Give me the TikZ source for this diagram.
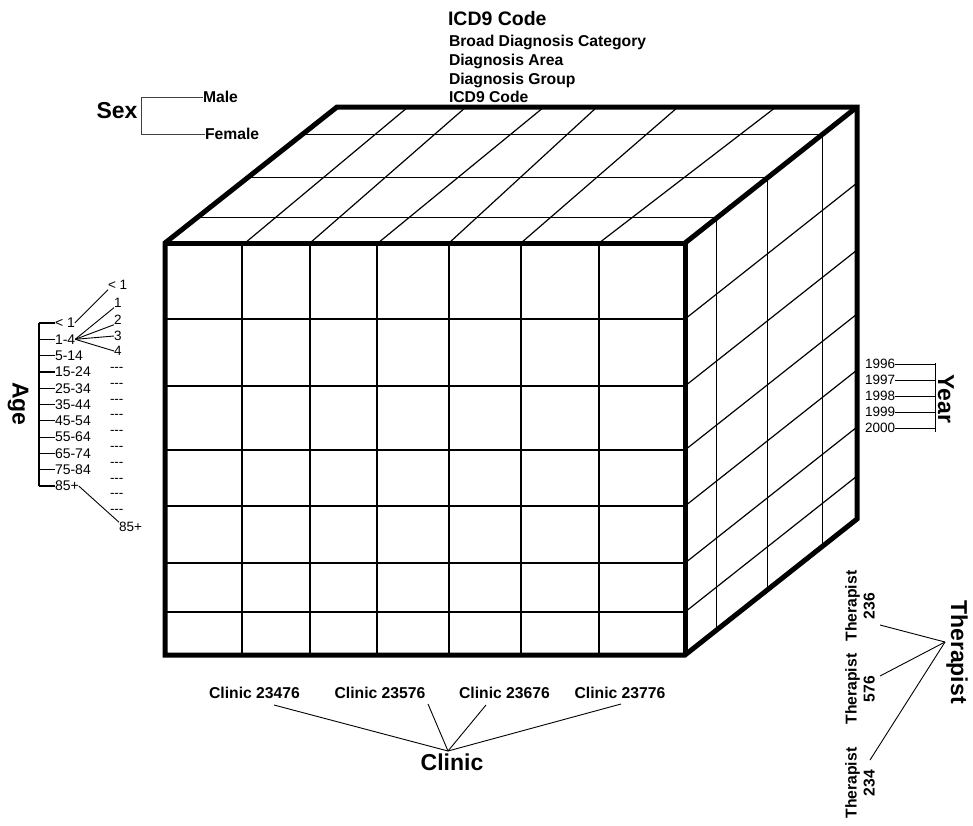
\documentclass[tikz,border=0pt]{standalone}
\usepackage{fontspec}
\setmainfont{Liberation Sans}
\usetikzlibrary{calc}
\newcommand\AxisFont{\fontsize{23}{27}\selectfont\bfseries}
\newcommand\LabFont{\fontsize{15.7}{18}\selectfont\bfseries}
\newcommand\TitleFont{\fontsize{19.5}{22}\selectfont\bfseries}
\newcommand\TickFont{\fontsize{13.5}{15}\selectfont}
\newcommand\AgeFont{\fontsize{14}{15}\selectfont}
\begin{document}
\begin{tikzpicture}[x=1pt,y=-1pt,
  every node/.style={inner sep=0pt,outer sep=0pt},
  cubeedge/.style={line width=5pt,line join=miter},
  gridline/.style={line width=1.2pt},
  thinline/.style={line width=0.9pt},
  agline/.style={line width=1.2pt},
  axislab/.style={font=\AxisFont},
  midlab/.style={font=\LabFont},
  titlelab/.style={font=\TitleFont},
  ticklab/.style={font=\TickFont},
  agelab/.style={font=\AgeFont}]
\useasboundingbox (0,0) rectangle (973,825);
\fill[white] (0,0) rectangle (973,825);

% cube corners
\coordinate (A) at (165,243);
\coordinate (B) at (685,243);
\coordinate (C) at (685,655);
\coordinate (D) at (165,655);
\coordinate (E) at (337,107);
\coordinate (F) at (857,107);
\coordinate (G) at (857,519);

% front grid
\foreach \x in {242,310,377,449,521,599} \draw[gridline] (\x,243) -- (\x,655);
\foreach \y in {319,386,450,506,563,612} {
  \draw[gridline] (165,\y) -- (685,\y);
  \draw[gridline] (685,\y) -- ++(172,-136);
}
% top and right face grid
\foreach \t in {0.185,0.48,0.80} {
  \draw[gridline] ($(A)!\t!(E)$) -- ($(B)!\t!(F)$);
  \draw[gridline] ($(B)!\t!(F)$) -- ($(C)!\t!(G)$);
}
\foreach \a/\b in {245/408,310/466,378/544,449/597,521/678,599/776}
  \draw[gridline] (\a,243) -- (\b,107);

% cube outline
\draw[cubeedge] (A) -- (E) -- (F) -- (G) -- (C) -- (D) -- cycle;
\draw[cubeedge] (A) -- (B) -- (C);
\draw[cubeedge] (B) -- (F);

% top labels
\node[titlelab,anchor=base west] (icd) at (448,25) {ICD9 Code};
\node[midlab,anchor=base west] (lv1) at (449,46.7) {Broad Diagnosis Category};
\node[midlab,anchor=base west] (lv2) at (449,65) {Diagnosis Area};
\node[midlab,anchor=base west] (lv3) at (449,84) {Diagnosis Group};
\node[midlab,anchor=base west] (lv4) at (449,102) {ICD9 Code};

% sex
\node[axislab] (sex) at (117,111) {Sex};
\node[midlab,anchor=west] (male) at (203,97) {Male};
\node[midlab,anchor=west] (female) at (205,134) {Female};
\coordinate (sx) at (141,0);
\draw[thinline,black!75] (male.west) -- (male.west -| sx) -- (female.west -| sx) -- (female.west);

% age
\node[axislab,rotate=-90] (age) at (18,404) {Age};
\foreach \i/\t in {0/{< 1},1/{1-4},2/{5-14},3/{15-24},4/{25-34},5/{35-44},6/{45-54},7/{55-64},8/{65-74},9/{75-84},10/{85+}} {
  \node[agelab,anchor=west] (ag\i) at (55,{323+16.3*\i}) {\t};
  \draw[agline] (ag\i.west) -- ++(-16,0);
}
\draw[agline] ($(ag0.west)+(-16,0)$) -- ($(ag10.west)+(-16,0)$);
\node[ticklab,anchor=west] (r0) at (108,285) {< 1};
\node[ticklab,anchor=west] (r1) at (114,303) {1};
\node[ticklab,anchor=west] (r2) at (114,320) {2};
\node[ticklab,anchor=west] (r3) at (114,336) {3};
\node[ticklab,anchor=west] (r4) at (114,351) {4};
\foreach \i in {0,...,9}
  \node[ticklab,anchor=west] (dd\i) at (110,{369.3+15.82*\i}) {-{}-{}-};
\node[ticklab,anchor=west] (r85) at (119,527) {85+};
\draw[thinline] (ag0.east) -- (r0.south west);
\draw[thinline] (ag1.east) -- (r1.south west);
\draw[thinline] (ag1.east) -- (r2.south west);
\draw[thinline] (ag1.east) -- (r3.west);
\draw[thinline] (ag1.east) -- (r4.west);
\draw[thinline] (ag10.east) -- (r85.north west);

% year
\foreach \i/\t in {0/1996,1/1997,2/1998,3/1999,4/2000} {
  \node[ticklab,anchor=west] (yr\i) at (865,{364+16*\i}) {\t};
  \draw[thinline] (yr\i.east) -- (yr\i.east -| 935,0);
}
\draw[thinline] (935,363) -- (935,432);
\node[axislab,rotate=-90] (year) at (946,399) {Year};

% therapist
\node[axislab,rotate=-90] (ther) at (957,652) {Therapist};
\node[midlab,rotate=90,align=center] (th1) at (860,606) {Therapist\\236};
\node[midlab,rotate=90,align=center] (th2) at (860,689) {Therapist\\576};
\node[midlab,rotate=90,align=center] (th3) at (860,783) {Therapist\\234};
\coordinate (thp) at (945,642);
\coordinate (te1) at (880,625);
\coordinate (te2) at (880,676);
\coordinate (te3) at (870,760);
\draw[thinline] (te1) -- (thp);
\draw[thinline] (te2) -- (thp);
\draw[thinline] (te3) -- (thp);

% clinic
\node[midlab] (cl1) at (254.5,693) {Clinic 23476};
\node[midlab] (cl2) at (380,693) {Clinic 23576};
\node[midlab] (cl3) at (504.5,693) {Clinic 23676};
\node[midlab] (cl4) at (620,693) {Clinic 23776};
\node[axislab] (clinic) at (452,762) {Clinic};
\coordinate (cp) at (448,751);
\coordinate (ce1) at (274,705);
\coordinate (ce2) at (428,704);
\coordinate (ce3) at (486,705);
\coordinate (ce4) at (621,704);
\foreach \k in {1,2,3,4} \draw[thinline] (ce\k) -- (cp);
\end{tikzpicture}
\end{document}
